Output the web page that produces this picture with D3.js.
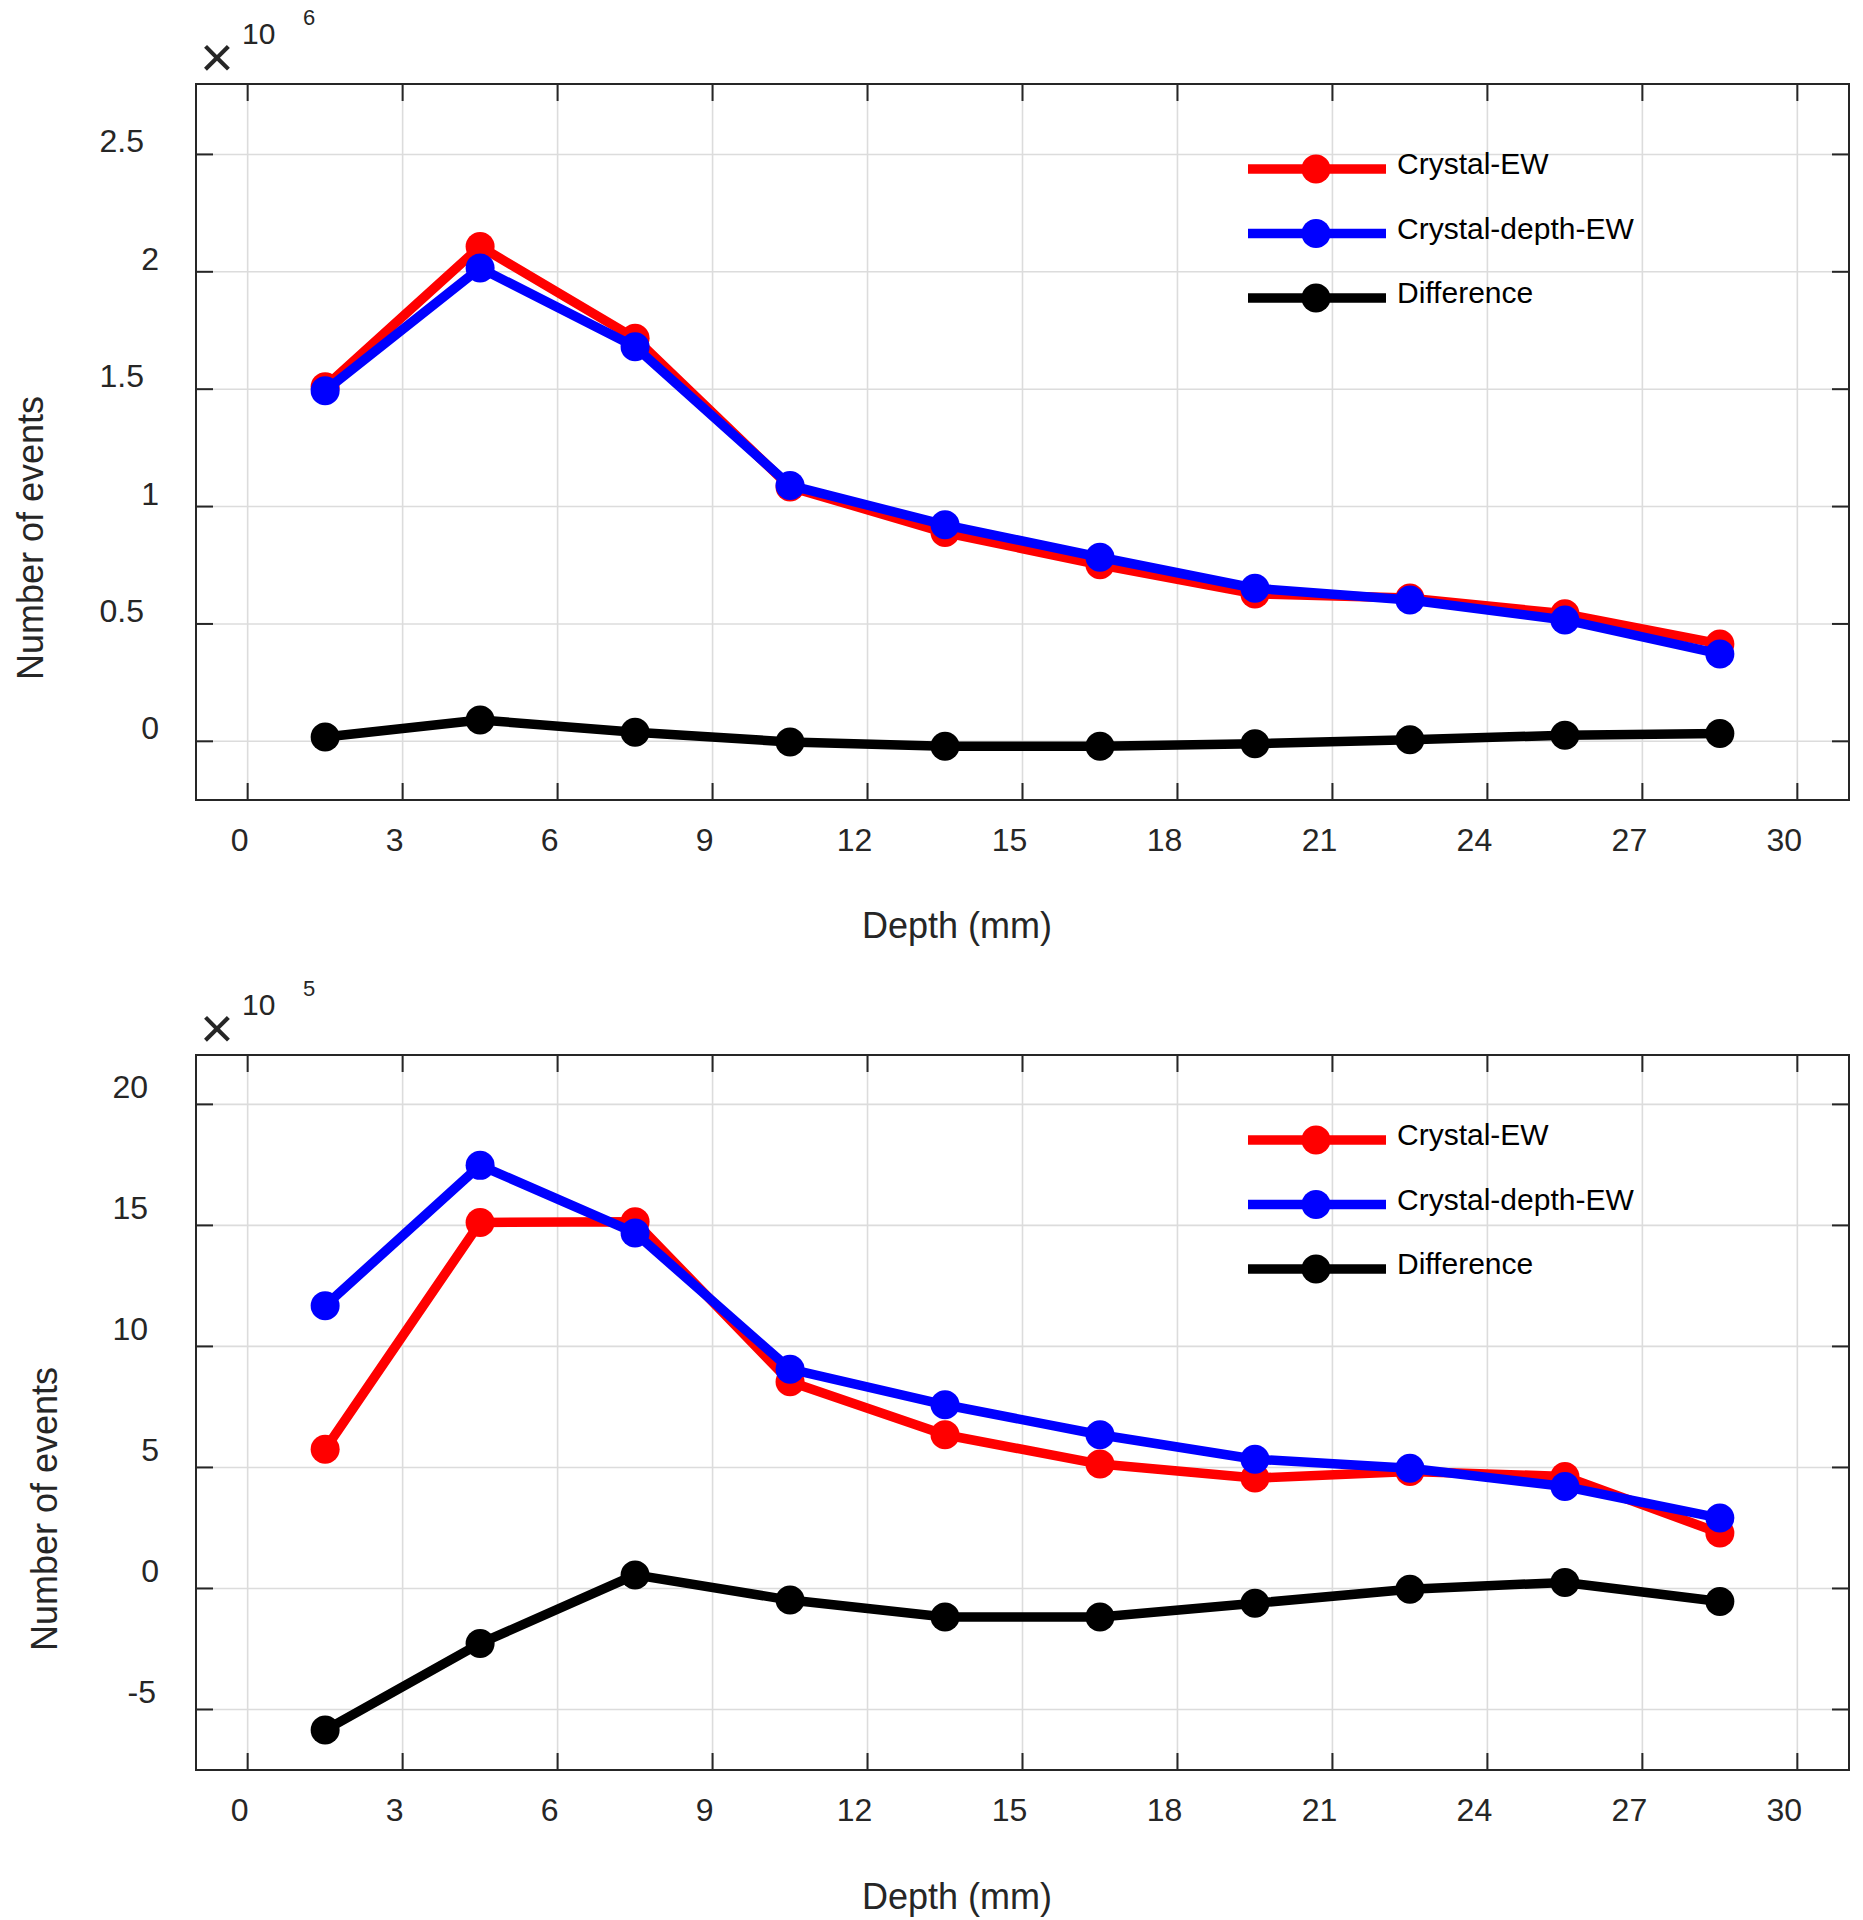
<!DOCTYPE html>
<html>
<head>
<meta charset="utf-8">
<script src="https://cdn.jsdelivr.net/npm/d3@7"></script>
<style>
  html, body { margin: 0; padding: 0; background: #fff; }
  svg { display: block; font-family: "Liberation Sans", Arial, sans-serif; }
</style>
</head>
<body>
<svg id="chart" width="1863" height="1920"></svg>
<script>
// ---------- DATA ----------
const depths = [1.5, 4.5, 7.5, 10.5, 13.5, 16.5, 19.5, 22.5, 25.5, 28.5];
const seriesNames = ["Crystal-EW", "Crystal-depth-EW", "Difference"];
const seriesColors = ["#ff0000", "#0000ff", "#000000"];
const xTicks = [0, 3, 6, 9, 12, 15, 18, 21, 24, 27, 30];

// Top panel (x 10^6)
const topCrystalEW      = [1.51, 2.108, 1.717, 1.083, 0.889, 0.752, 0.628, 0.610, 0.543, 0.415];
const topCrystalDepthEW = [1.493, 2.016, 1.681, 1.09, 0.922, 0.784, 0.652, 0.602, 0.517, 0.372];
const topDifference     = [0.018, 0.091, 0.039, -0.003, -0.021, -0.021, -0.010, 0.007, 0.026, 0.033];
const topYTicks = [0, 0.5, 1, 1.5, 2, 2.5];
const topYTickLabels = ["0", "0.5", "1", "1.5", "2", "2.5"];
const topExponent = "6";

// Bottom panel (x 10^5)
const botCrystalEW      = [5.75, 15.12, 15.15, 8.54, 6.35, 5.14, 4.56, 4.83, 4.63, 2.29];
const botCrystalDepthEW = [11.68, 17.48, 14.69, 9.06, 7.59, 6.35, 5.34, 4.97, 4.21, 2.91];
const botDifference     = [-5.85, -2.27, 0.56, -0.48, -1.18, -1.18, -0.61, -0.03, 0.25, -0.54];
const botYTicks = [-5, 0, 5, 10, 15, 20];
const botYTickLabels = ["-5", "0", "5", "10", "15", "20"];
const botExponent = "5";

const xLabel = "Depth (mm)";
const yLabel = "Number of events";

// ---------- DRAWING ----------
const svg = d3.select("#chart");
const axisColor = "#262626";
const gridColor = "#dcdcdc";

function drawPanel(cfg) {
  const x = d3.scaleLinear().domain([-1, 31]).range([196, 1849]);
  const y = d3.scaleLinear().domain(cfg.yDomain).range([cfg.bottom, cfg.top]);
  const g = svg.append("g");
  const [x0, x1] = x.range();
  const y0 = cfg.bottom, y1 = cfg.top;

  // grid
  g.append("g").selectAll("line").data(xTicks).join("line")
    .attr("x1", d => x(d)).attr("x2", d => x(d))
    .attr("y1", y1).attr("y2", y0)
    .attr("stroke", gridColor).attr("stroke-width", 1.6);
  g.append("g").selectAll("line").data(cfg.yTicks).join("line")
    .attr("y1", d => y(d)).attr("y2", d => y(d))
    .attr("x1", x0).attr("x2", x1)
    .attr("stroke", gridColor).attr("stroke-width", 1.6);

  // ticks (inward, mirrored)
  const tl = 17;
  const tk = g.append("g").attr("stroke", axisColor).attr("stroke-width", 2);
  tk.selectAll(".xb").data(xTicks).join("line")
    .attr("x1", d => x(d)).attr("x2", d => x(d)).attr("y1", y0).attr("y2", y0 - tl);
  tk.selectAll(".xt").data(xTicks).join("line")
    .attr("x1", d => x(d)).attr("x2", d => x(d)).attr("y1", y1).attr("y2", y1 + tl);
  tk.selectAll(".yl").data(cfg.yTicks).join("line")
    .attr("y1", d => y(d)).attr("y2", d => y(d)).attr("x1", x0).attr("x2", x0 + tl);
  tk.selectAll(".yr").data(cfg.yTicks).join("line")
    .attr("y1", d => y(d)).attr("y2", d => y(d)).attr("x1", x1).attr("x2", x1 - tl);

  // box
  g.append("rect").attr("x", x0).attr("y", y1)
    .attr("width", x1 - x0).attr("height", y0 - y1)
    .attr("fill", "none").attr("stroke", axisColor).attr("stroke-width", 2);

  // x tick labels
  g.append("g").selectAll("text").data(xTicks).join("text")
    .attr("x", d => x(d) - (3 + 5 * String(d).length))
    .attr("y", cfg.xLabelBaseline)
    .attr("text-anchor", "middle")
    .attr("font-size", 32).attr("fill", axisColor)
    .text(d => d);

  // y tick labels
  function yRight(s) {
    if (s.length === 1) return 159;
    if (s.length === 2 && s[0] === "-") return 156;
    if (s.length === 2) return 148;
    return 144;
  }
  g.append("g").selectAll("text").data(cfg.yTicks).join("text")
    .attr("x", (d, i) => yRight(cfg.yTickLabels[i]))
    .attr("y", d => y(d) - cfg.yLabelRaise + 11)
    .attr("text-anchor", "end")
    .attr("font-size", 32).attr("fill", axisColor)
    .text((d, i) => cfg.yTickLabels[i]);

  // exponent
  g.append("text").attr("x", 217).attr("y", cfg.expTop + 57.5 + 19)
    .attr("text-anchor", "middle").attr("font-size", 58).attr("fill", axisColor)
    .text("\u00D7");
  g.append("text").attr("x", 242).attr("y", cfg.expTop + 44)
    .attr("font-size", 30).attr("fill", axisColor).text("10");
  g.append("text").attr("x", 303).attr("y", cfg.expTop + 25)
    .attr("font-size", 22).attr("fill", axisColor).text(cfg.exponent);

  // axis titles
  g.append("text").attr("x", 957).attr("y", cfg.xTitleY)
    .attr("text-anchor", "middle").attr("font-size", 36).attr("fill", axisColor)
    .text(xLabel);
  g.append("text")
    .attr("transform", `translate(${cfg.yTitleX},${cfg.yTitleY}) rotate(-90)`)
    .attr("text-anchor", "middle").attr("dominant-baseline", "central")
    .attr("font-size", 36).attr("fill", axisColor)
    .text(yLabel);

  // series
  const line = d3.line().x((d, i) => x(depths[i])).y(d => y(d));
  cfg.series.forEach((vals, si) => {
    const sg = g.append("g");
    sg.append("path").datum(vals).attr("d", line)
      .attr("fill", "none").attr("stroke", seriesColors[si])
      .attr("stroke-width", 9.5).attr("stroke-linejoin", "round");
    sg.selectAll("circle").data(vals).join("circle")
      .attr("cx", (d, i) => x(depths[i])).attr("cy", d => y(d))
      .attr("r", 14.5).attr("fill", seriesColors[si]);
  });

  // legend
  const lg = g.append("g");
  seriesNames.forEach((name, i) => {
    const ry = cfg.top + 85 + i * 64.5;
    lg.append("line").attr("x1", 1248).attr("x2", 1386)
      .attr("y1", ry).attr("y2", ry)
      .attr("stroke", seriesColors[i]).attr("stroke-width", 9.5);
    lg.append("circle").attr("cx", 1316).attr("cy", ry).attr("r", 14.5)
      .attr("fill", seriesColors[i]);
    lg.append("text").attr("x", 1397).attr("y", ry + 5)
      .attr("font-size", 30).attr("fill", "#000").text(name);
  });
}

drawPanel({
  top: 84, bottom: 800,
  yDomain: [-0.25, 2.8],
  yTicks: topYTicks, yTickLabels: topYTickLabels,
  yLabelRaise: 13,
  xLabelBaseline: 851,
  xTitleY: 938,
  yTitleX: 30, yTitleY: 538,
  expTop: 0, exponent: topExponent,
  series: [topCrystalEW, topCrystalDepthEW, topDifference]
});

drawPanel({
  top: 1055, bottom: 1770,
  yDomain: [-7.5, 22.04],
  yTicks: botYTicks, yTickLabels: botYTickLabels,
  yLabelRaise: 17,
  xLabelBaseline: 1821,
  xTitleY: 1909,
  yTitleX: 44, yTitleY: 1509,
  expTop: 971, exponent: botExponent,
  series: [botCrystalEW, botCrystalDepthEW, botDifference]
});
</script>
</body>
</html>
